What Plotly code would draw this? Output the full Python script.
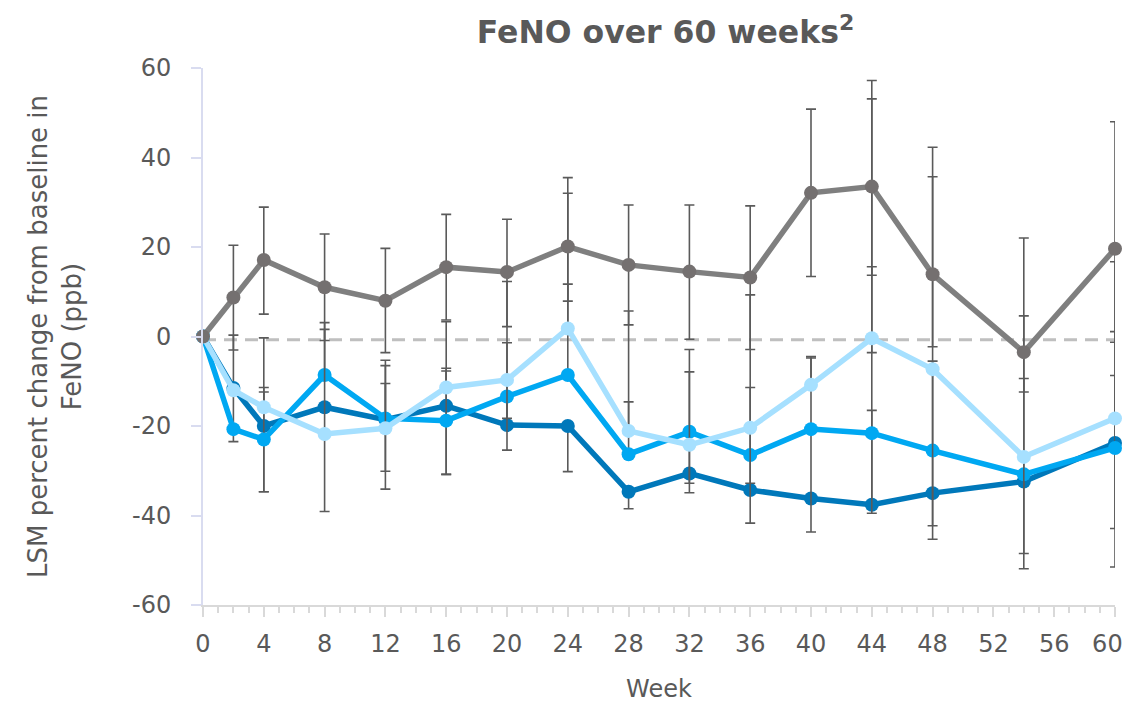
import plotly.graph_objects as go
import numpy as np

### DATOS #######################################
#################################################

weeks = [0, 2, 4, 8, 12, 16, 20, 24, 28, 32, 36, 40, 44, 48, 54, 60]

gray = [0, 8.7, 17.1, 11.0, 8.0, 15.5, 14.4, 20.1, 16.0, 14.5, 13.2, 32.1, 33.5, 13.9, -3.5, 19.6]
gray_up = [None, 20.4, 28.9, 22.9, 19.7, 27.3, 26.2, 35.5, 29.4, 29.4, 29.2, 50.8, 57.2, 42.3, 22.0, 48.0]
gray_lo = [None, -3.0, 5.0, -0.9, -3.6, 3.7, 2.2, 7.9, 2.6, -0.6, -2.9, 13.4, 13.7, -2.3, -12.4, -1.3]

dark = [0, -11.5, -20.0, -15.8, -18.6, -15.5, -19.8, -20.0, -34.7, -30.6, -34.3, -36.2, -37.6, -35.0, -32.4, -23.8]
dark_up = [None, 0.3, -0.3, None, -5.3, -7.7, -1.4, None, None, None, None, None, -16.5, None, None, 16.7]
dark_lo = [None, -23.5, -34.7, None, -30.1, -30.8, None, -30.2, -38.5, None, None, None, None, None, None, -51.5]

mid = [0, -20.7, -23.0, -8.6, -18.3, -18.8, -13.4, -8.6, -26.3, -21.3, -26.5, -20.7, -21.6, -25.5, -30.8, -24.9]
mid_up = [None, None, -12.4, 3.1, -6.5, 3.3, None, 11.7, -14.6, -7.9, -11.4, -4.8, 15.6, -5.5, -9.4, 1.1]
mid_lo = [None, None, -34.7, None, -34.1, -30.8, -18.3, None, None, -32.8, -41.7, -43.7, -39.5, -45.3, -51.9, -42.9]

light = [0, -12.0, -15.8, -21.8, -20.5, -11.4, -9.7, 1.8, -21.1, -24.2, -20.4, -10.8, -0.4, -7.3, -26.9, -18.3]
light_up = [None, None, -11.4, 1.6, -10.5, -7.1, 12.3, 32.0, 5.7, -2.9, 9.3, -4.5, 53.1, 35.7, 4.6, -8.7]
light_lo = [None, None, None, -39.1, None, None, -25.4, None, None, -34.9, -32.8, None, -3.6, -42.3, -48.5, None]

baseline = -0.7

x_ticks = [0, 4, 8, 12, 16, 20, 24, 28, 32, 36, 40, 44, 48, 52, 56, 60]
# el ultimo lleva espacios para que no se corte en el borde
x_labels = ['0', '4', '8', '12', '16', '20', '24', '28', '32', '36', '40', '44', '48', '52', '56',
            '60\u00a0\u00a0']
y_ticks = [-60, -40, -20, 0, 20, 40, 60]
y_labels = ['-60', '-40', '-20', '0', '20', '40', '60']

txt = '#595959'
fuente = 'DejaVu Sans'


## Convierte los limites a errores (asimetricos)
def errores(vals, up, lo):
  plus, minus = [], []
  for v, u, l in zip(vals, up, lo):
    if u is None and l is None:
      plus.append(np.nan)
      minus.append(np.nan)
    else:
      plus.append(0 if u is None else u - v)
      minus.append(0 if l is None else v - l)
  return plus, minus


series = [
  ('Grupo 1', dark, dark_up, dark_lo, '#0078BA', '#0078BA'),
  ('Grupo 2', mid, mid_up, mid_lo, '#00A8F2', '#00A8F2'),
  ('Grupo 3', light, light_up, light_lo, '#A6E0FF', '#A6E0FF'),
  ('Grupo 4', gray, gray_up, gray_lo, '#7F7F7F', '#747070'),
]

fig = go.Figure()

fig.add_hline(y=baseline, line=dict(color='#BFBFBF', width=3, dash='13px,8px'), layer='below')

for name, vals, up, lo, col, mcol in series:
  plus, minus = errores(vals, up, lo)
  fig.add_trace(go.Scatter(x=weeks, y=vals, name=name, mode='lines+markers',
                           line=dict(color=col, width=5.5),
                           marker=dict(color=mcol, size=14),
                           cliponaxis=False,
                           error_y=dict(type='data', symmetric=False, array=plus, arrayminus=minus,
                                        color='#5A5A5A', thickness=1.6, width=5)))

# la pagina tiene 8px de margen en el body, por eso 1124x695
fig.update_layout(width=1124,
                  height=695,
                  showlegend=False,
                  margin=dict(l=195, r=17, t=60, b=98),
                  paper_bgcolor='white',
                  plot_bgcolor='white',
                  font=dict(family=fuente, color=txt, size=24),
                  title=dict(text='<b>FeNO over 60 weeks<sup>2</sup></b>', x=0.585, xanchor='center',
                             y=0.965, yanchor='middle', font=dict(size=31.5, color=txt)))

fig.update_xaxes(range=[0, 60], tickmode='array', tickvals=x_ticks, ticktext=x_labels,
                 ticks='outside', ticklen=10, ticklabeloverflow='allow',
                 tickcolor='#D9D9D9', tickwidth=1.5, showline=True, linecolor='#D9D9D9', linewidth=2,
                 showgrid=False, zeroline=False, ticklabelstandoff=6, automargin=False,
                 tickfont=dict(size=24),
                 minor=dict(tickmode='linear', tick0=0, dtick=1, ticks='outside', ticklen=6,
                            tickcolor='#D9D9D9', tickwidth=1.5),
                 title=dict(text='Week', standoff=28, font=dict(size=24)))
fig.update_yaxes(range=[-60, 60], tickmode='array', tickvals=y_ticks, ticktext=y_labels,
                 ticks='outside', ticklen=10,
                 tickcolor='#D9DCF0', tickwidth=1.5, showline=True, linecolor='#D9DCF0', linewidth=2,
                 showgrid=False, zeroline=False, ticklabelstandoff=15, automargin=False,
                 tickfont=dict(size=24),
                 title=dict(text='LSM percent change from baseline in<br>FeNO (ppb)', standoff=43,
                            font=dict(size=26)))

fig.write_html("out.html")
